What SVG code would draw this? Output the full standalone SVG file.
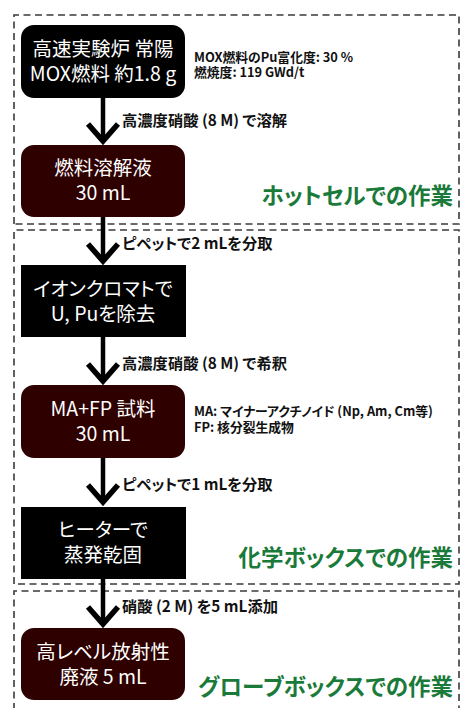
<svg xmlns="http://www.w3.org/2000/svg" width="460" height="708" viewBox="0 0 460 708">
<defs>
<style>
text{font-family:"Noto Sans CJK JP","Noto Sans",sans-serif;font-feature-settings:"palt" 1}
.zone{fill:none;stroke:#3a3a3a;stroke-width:1.6;stroke-dasharray:7 4.5}
.blk{fill:#000}
.mar{fill:#2e0000}
.nt{fill:#fff;font-size:19.5px;text-anchor:middle}
.lab{fill:#111;font-size:15.3px;font-weight:bold}
.info{fill:#111;font-size:12.8px;font-weight:bold}
.zt{fill:#1a7a3a;font-size:22.5px;font-weight:bold;text-anchor:end}
.ln{stroke:#000;stroke-width:4.5;fill:none}
.hd{stroke:#000;stroke-width:5.5;fill:none;stroke-linejoin:miter;stroke-miterlimit:10}
</style>
</defs>
<rect width="460" height="708" fill="#fff"/>
<g id="zones">
<path class="zone" d="M14,224 V15 H459 V224 Z"/>
<path class="zone" d="M14,584 V230 H459 V584 Z"/>
<path class="zone" d="M14,710 V591 H459 V710"/>
<text class="zt" x="453" y="204">ホットセルでの作業</text>
<text class="zt" x="453" y="566">化学ボックスでの作業</text>
<text class="zt" x="453" y="695">グローブボックスでの作業</text>
</g>
<g id="connectors">
<path class="ln" d="M103,97 V141"/>
<path class="hd" d="M88,124 L103,141 L118,124"/>
<path class="ln" d="M103,217 V261"/>
<path class="hd" d="M88,244 L103,261 L118,244"/>
<path class="ln" d="M103,337 V381"/>
<path class="hd" d="M88,364 L103,381 L118,364"/>
<path class="ln" d="M103,458 V502"/>
<path class="hd" d="M88,485 L103,502 L118,485"/>
<path class="ln" d="M103,579 V624"/>
<path class="hd" d="M88,607 L103,624 L118,607"/>
<text class="lab" x="122" y="126">高濃度硝酸 (8 M) で溶解</text>
<text class="lab" x="122" y="249">ピペットで2 mLを分取</text>
<text class="lab" x="122" y="369">高濃度硝酸 (8 M) で希釈</text>
<text class="lab" x="122" y="490">ピペットで1 mLを分取</text>
<text class="lab" x="122" y="612">硝酸 (2 M) を5 mL添加</text>
</g>
<g id="n1">
<rect class="blk" x="21" y="25" width="164" height="73" rx="13"/>
<text class="nt" x="103" y="56">高速実験炉 常陽<tspan x="103" y="81">MOX燃料 約1.8 g</tspan></text>
<text class="info" x="194" y="62">MOX燃料のPu富化度: 30 %<tspan x="194" y="77">燃焼度: 119 GWd/t</tspan></text>
</g>
<g id="n2">
<rect class="mar" x="21" y="145" width="164" height="72" rx="13"/>
<text class="nt" x="103" y="175">燃料溶解液<tspan x="103" y="200">30 mL</tspan></text>
</g>
<g id="n3">
<rect class="blk" x="21" y="265" width="165" height="72"/>
<text class="nt" x="103" y="296">イオンクロマトで<tspan x="103" y="321">U, Puを除去</tspan></text>
</g>
<g id="n4">
<rect class="mar" x="21" y="385" width="164" height="73" rx="13"/>
<text class="nt" x="103" y="416">MA+FP 試料<tspan x="103" y="441">30 mL</tspan></text>
<text class="info" x="194" y="416">MA: マイナーアクチノイド (Np, Am, Cm等)<tspan x="194" y="432">FP: 核分裂生成物</tspan></text>
</g>
<g id="n5">
<rect class="blk" x="21" y="507" width="165" height="72"/>
<text class="nt" x="103" y="537">ヒーターで<tspan x="103" y="562">蒸発乾固</tspan></text>
</g>
<g id="n6">
<rect class="mar" x="21" y="628" width="164" height="72" rx="13"/>
<text class="nt" x="103" y="659">高レベル放射性<tspan x="103" y="684">廃液 5 mL</tspan></text>
</g>
</svg>
